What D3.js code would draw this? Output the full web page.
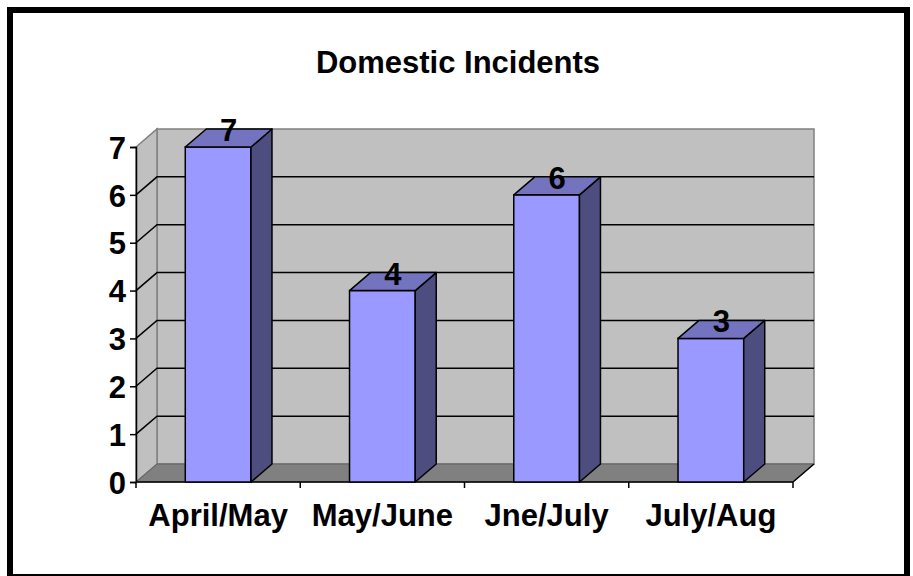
<!DOCTYPE html>
<html>
<head>
<meta charset="utf-8">
<script src="https://cdn.jsdelivr.net/npm/d3@7"></script>
<style>
	html, body { margin: 0; padding: 0; background: #fff; }
	svg { display: block; }
	text { font-family: "Liberation Sans", Arial, sans-serif; font-weight: bold; fill: #000; }
</style>
</head>
<body>
<script>
// Chart data
const categories = ["April/May", "May/June", "Jne/July", "July/Aug"];
const incidents = [7, 4, 6, 3];
const yTicks = [0, 1, 2, 3, 4, 5, 6, 7];
const title = "Domestic Incidents";

const width = 913;
const height = 576;
const fontSize = "31px";

// Plot area (front plane) and 3D depth offset
let plot = { left: 136, right: 793, top: 147, bottom: 482 };
let depth = { dx: 21, dy: 18 };

let svg = d3.select("body").append("svg")
	.attr("width", width)
	.attr("height", height);

// Outer frame
svg.append("rect")
	.attr("x", 10).attr("y", 10)
	.attr("width", 897).attr("height", 567)
	.attr("fill", "#fff")
	.attr("stroke", "#000")
	.attr("stroke-width", 6);

// Scales
let xScale = d3.scaleBand()
	.domain(categories)
	.range([plot.left, plot.right])
	.paddingInner(0.6)
	.paddingOuter(0.3);

let yScale = d3.scaleLinear()
	.domain([0, 7])
	.range([plot.bottom, plot.top]);

let chart = svg.append("g").attr("class", "chart");

let x0 = plot.left, x1 = plot.right;
let yTop = yScale(7), yBase = yScale(0);
let dx = depth.dx, dy = depth.dy;

// Back wall
chart.append("rect")
	.attr("x", x0 + dx).attr("y", yTop - dy)
	.attr("width", x1 - x0).attr("height", yBase - yTop)
	.attr("fill", "#c0c0c0")
	.attr("stroke", "#808080")
	.attr("stroke-width", 1.5);

// Side wall
chart.append("path")
	.attr("d", `M${x0},${yBase}L${x0},${yTop}L${x0 + dx},${yTop - dy}L${x0 + dx},${yBase - dy}Z`)
	.attr("fill", "#c0c0c0")
	.attr("stroke", "#808080")
	.attr("stroke-width", 1.5);

// Floor
chart.append("path")
	.attr("d", `M${x0},${yBase}L${x1},${yBase}L${x1 + dx},${yBase - dy}L${x0 + dx},${yBase - dy}Z`)
	.attr("fill", "#808080")
	.attr("stroke", "#606060")
	.attr("stroke-width", 1);

// Gridlines across side wall and back wall
chart.append("g").attr("class", "grid")
	.selectAll("path")
	.data(yTicks.filter(d => d > 0 && d < 7))
	.enter().append("path")
	.attr("d", d => `M${x0},${yScale(d)}L${x0 + dx},${yScale(d) - dy}L${x1 + dx},${yScale(d) - dy}`)
	.attr("fill", "none")
	.attr("stroke", "#000")
	.attr("stroke-width", 1.5);

// Floor right edge
chart.append("line")
	.attr("x1", x1).attr("y1", yBase)
	.attr("x2", x1 + dx).attr("y2", yBase - dy)
	.attr("stroke", "#000")
	.attr("stroke-width", 1.5);

// Y axis
let yAxis = d3.axisLeft(yScale).tickValues(yTicks).tickSize(6).tickPadding(4).tickFormat(d3.format("d"));
let yAxisG = chart.append("g")
	.attr("transform", `translate(${x0},0)`)
	.call(yAxis);
yAxisG.select(".domain").attr("stroke", "#000").attr("stroke-width", 1.5);
yAxisG.selectAll(".tick line").attr("stroke", "#000").attr("stroke-width", 1.5);
yAxisG.selectAll(".tick text")
	.style("font-size", fontSize)
	.style("font-family", "'Liberation Sans', Arial, sans-serif")
	.style("font-weight", "bold")
	.attr("dy", "0.36em");

// X axis (ticks at category boundaries)
let step = xScale.step();
let boundaries = d3.range(categories.length + 1).map(i => x0 + i * step);
let xAxisG = chart.append("g").attr("class", "xaxis");
xAxisG.append("line")
	.attr("x1", x0).attr("x2", x1)
	.attr("y1", yBase).attr("y2", yBase)
	.attr("stroke", "#000").attr("stroke-width", 1.5);
xAxisG.selectAll(".xtick")
	.data(boundaries)
	.enter().append("line")
	.attr("class", "xtick")
	.attr("x1", d => d).attr("x2", d => d)
	.attr("y1", yBase).attr("y2", yBase + 6)
	.attr("stroke", "#000").attr("stroke-width", 1.5);
xAxisG.selectAll(".xlabel")
	.data(categories)
	.enter().append("text")
	.attr("class", "xlabel")
	.attr("x", d => x0 + (categories.indexOf(d) + 0.5) * step)
	.attr("y", 526)
	.attr("text-anchor", "middle")
	.style("font-size", fontSize)
	.text(d => d);

// 3D bars
let bw = xScale.bandwidth();
let bars = chart.append("g").attr("class", "bars")
	.selectAll("g")
	.data(categories.map((c, i) => ({ category: c, value: incidents[i] })))
	.enter().append("g");

// Front face
bars.append("rect")
	.attr("x", d => xScale(d.category))
	.attr("y", d => yScale(d.value))
	.attr("width", bw)
	.attr("height", d => yBase - yScale(d.value))
	.attr("fill", "#9999ff")
	.attr("stroke", "#000")
	.attr("stroke-width", 1.5);

// Side face
bars.append("path")
	.attr("d", d => {
		let xr = xScale(d.category) + bw, yt = yScale(d.value);
		return `M${xr},${yBase}L${xr},${yt}L${xr + dx},${yt - dy}L${xr + dx},${yBase - dy}Z`;
	})
	.attr("fill", "#4d4d80")
	.attr("stroke", "#000")
	.attr("stroke-width", 1.5)
	.attr("stroke-linejoin", "round");

// Top face
bars.append("path")
	.attr("d", d => {
		let xl = xScale(d.category), yt = yScale(d.value);
		return `M${xl},${yt}L${xl + bw},${yt}L${xl + bw + dx},${yt - dy}L${xl + dx},${yt - dy}Z`;
	})
	.attr("fill", "#7373bf")
	.attr("stroke", "#000")
	.attr("stroke-width", 1.5)
	.attr("stroke-linejoin", "round");

// Value labels
bars.append("text")
	.attr("x", d => xScale(d.category) + bw / 2 + dx / 2)
	.attr("y", d => yScale(d.value) - 6)
	.attr("text-anchor", "middle")
	.style("font-size", fontSize)
	.text(d => d.value);

// Title
svg.append("text")
	.attr("x", 458)
	.attr("y", 73)
	.attr("text-anchor", "middle")
	.style("font-size", fontSize)
	.text(title);
</script>
</body>
</html>
